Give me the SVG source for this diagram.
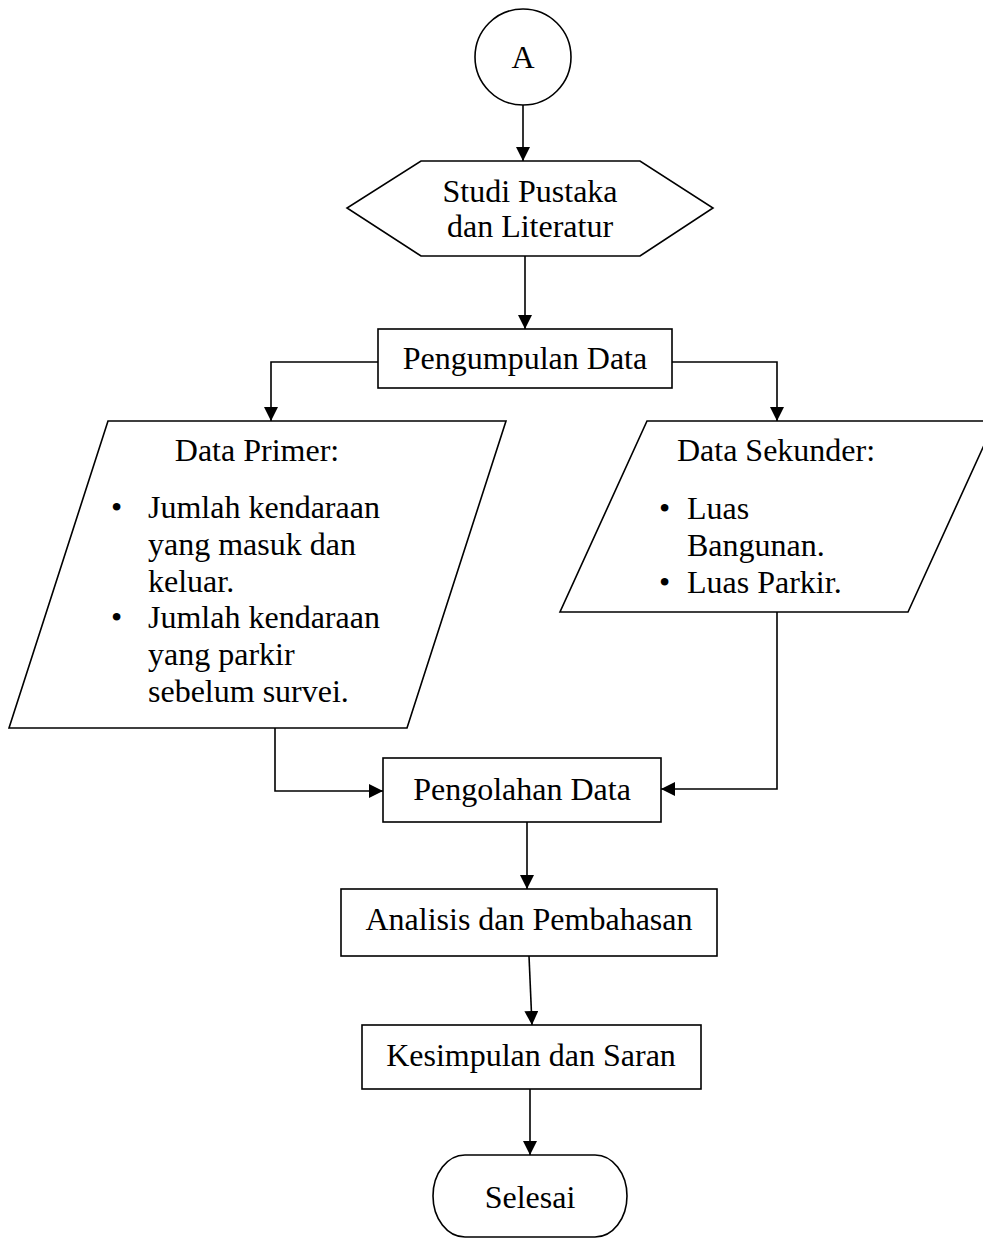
<svg xmlns="http://www.w3.org/2000/svg" width="983" height="1240" viewBox="0 0 983 1240">
<style>
.s{fill:#fff;stroke:#000;stroke-width:1.6}
.t{font-family:"Liberation Serif","Times New Roman",serif;font-size:32px;fill:#000}
.m{text-anchor:middle}
.c{fill:none;stroke:#000;stroke-width:1.6}
</style>
<defs>
<marker id="ah" viewBox="0 0 14 14" refX="14" refY="7" markerWidth="14" markerHeight="14" markerUnits="userSpaceOnUse" orient="auto">
<path d="M0,0 L14,7 L0,14 Z" fill="#000"/>
</marker>
</defs>
<rect width="983" height="1240" fill="#fff"/>
<g id="connectors">
<path class="c" d="M523,105 L523,161" marker-end="url(#ah)"/>
<path class="c" d="M525,256 L525,329" marker-end="url(#ah)"/>
<path class="c" d="M378,362 L271,362 L271,421" marker-end="url(#ah)"/>
<path class="c" d="M672,362 L777,362 L777,421" marker-end="url(#ah)"/>
<path class="c" d="M275,728 L275,791 L383,791" marker-end="url(#ah)"/>
<path class="c" d="M777,612 L777,789 L661,789" marker-end="url(#ah)"/>
<path class="c" d="M527,822 L527,889" marker-end="url(#ah)"/>
<path class="c" d="M529,956 L532,1025" marker-end="url(#ah)"/>
<path class="c" d="M530,1089 L530,1155" marker-end="url(#ah)"/>
</g>
<g id="nodeA">
<circle class="s" cx="523" cy="57" r="48"/>
<text class="t m" x="523" y="68">A</text>
</g>
<g id="studi">
<polygon class="s" points="421,161 640,161 713,208 640,256 421,256 347,208"/>
<text class="t m" x="530" y="202">Studi Pustaka</text>
<text class="t m" x="530" y="237">dan Literatur</text>
</g>
<g id="pengumpulan">
<rect class="s" x="378" y="329" width="294" height="59"/>
<text class="t m" x="525" y="369">Pengumpulan Data</text>
</g>
<g id="primer">
<polygon class="s" points="108,421 506,421 407,728 9,728"/>
<text class="t m" x="257" y="461">Data Primer:</text>
<text class="t" x="111" y="518">•</text>
<text class="t" x="148" y="518">Jumlah kendaraan</text>
<text class="t" x="148" y="555">yang masuk dan</text>
<text class="t" x="148" y="592">keluar.</text>
<text class="t" x="111" y="628">•</text>
<text class="t" x="148" y="628">Jumlah kendaraan</text>
<text class="t" x="148" y="665">yang parkir</text>
<text class="t" x="148" y="702">sebelum survei.</text>
</g>
<g id="sekunder">
<polygon class="s" points="647,421 995,421 908,612 560,612"/>
<text class="t m" x="776" y="461">Data Sekunder:</text>
<text class="t" x="659" y="519">•</text>
<text class="t" x="687" y="519">Luas</text>
<text class="t" x="687" y="556">Bangunan.</text>
<text class="t" x="659" y="593">•</text>
<text class="t" x="687" y="593">Luas Parkir.</text>
</g>
<g id="pengolahan">
<rect class="s" x="383" y="758" width="278" height="64"/>
<text class="t m" x="522" y="800">Pengolahan Data</text>
</g>
<g id="analisis">
<rect class="s" x="341" y="889" width="376" height="67"/>
<text class="t m" x="529" y="930">Analisis dan Pembahasan</text>
</g>
<g id="kesimpulan">
<rect class="s" x="362" y="1025" width="339" height="64"/>
<text class="t m" x="531" y="1066">Kesimpulan dan Saran</text>
</g>
<g id="selesai">
<rect class="s" x="433" y="1155" width="194" height="82" rx="32" ry="41"/>
<text class="t m" x="530" y="1208">Selesai</text>
</g>
</svg>
